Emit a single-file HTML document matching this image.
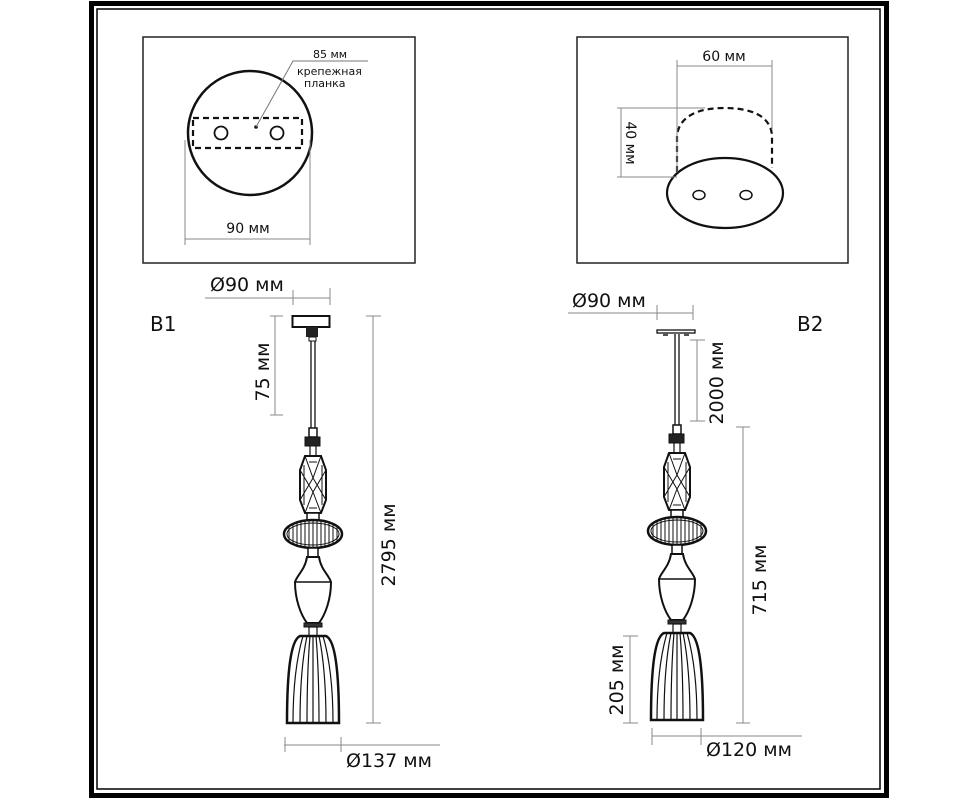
<!DOCTYPE html>
<html><head><meta charset="utf-8"><style>
html,body{margin:0;padding:0;background:#fff;}
svg{display:block;}
text{font-family:"DejaVu Sans","Liberation Sans",sans-serif;fill:#111;}
</style></head><body>
<svg width="978" height="800" viewBox="0 0 978 800" xmlns="http://www.w3.org/2000/svg">
<defs>
<clipPath id="diskc"><ellipse cx="0" cy="534" rx="29" ry="14"/></clipPath>
<clipPath id="shadec"><path d="M -13 636 C -22 640, -26 670, -26 723 L 26 723 C 26 670, 22 640, 13 636 Z"/></clipPath>
<g id="body" stroke="#111" fill="none">
  <rect x="-4" y="428" width="8" height="9" stroke-width="1.5" fill="#fff"/>
  <rect x="-8" y="437" width="15" height="9" fill="#222" stroke-width="1"/>
  <line x1="-3" y1="446" x2="-3" y2="456" stroke-width="1.2"/>
  <line x1="3" y1="446" x2="3" y2="456" stroke-width="1.2"/>
  <polygon points="-8,456 8,456 13,470 13,500 8,513 -8,513 -13,500 -13,470" stroke-width="2"/>
  <path d="M -8 456 L 0 478 L 8 456 M -13 470 L 0 492 L 13 470 M -13 500 L 0 478 L 13 500 M -8 513 L 0 492 L 8 513 M -9 465 L -9 505 M 9 465 L 9 505 M -4 462 L 4 462 M -4 508 L 4 508" stroke-width="1"/>
  <rect x="-6" y="513" width="12" height="7" stroke-width="1.5" fill="#fff"/>
  <ellipse cx="0" cy="534" rx="29" ry="14" stroke-width="2.5" fill="#fff"/>
  <g clip-path="url(#diskc)" stroke-width="1">
    <path d="M -24 520 V 548 M -20 520 V 548 M -16 520 V 548 M -12 520 V 548 M -8 520 V 548 M -4 520 V 548 M 0 520 V 548 M 4 520 V 548 M 8 520 V 548 M 12 520 V 548 M 16 520 V 548 M 20 520 V 548 M 24 520 V 548"/>
    <ellipse cx="0" cy="534" rx="26" ry="11"/>
  </g>
  <rect x="-5" y="548" width="10" height="9" stroke-width="1.5" fill="#fff"/>
  <path d="M -6 557 L 6 557 C 8 570, 16 575, 18 582 C 18 600, 12 615, 6 623 L -6 623 C -12 615, -18 600, -18 582 C -16 575, -8 570, -6 557 Z" stroke-width="2" fill="#fff"/>
  <line x1="-18" y1="582" x2="18" y2="582" stroke-width="1.5"/>
  <rect x="-9" y="623" width="18" height="4" fill="#333" stroke-width="1"/>
  <rect x="-4" y="627" width="8" height="9" stroke-width="1.2" fill="#fff"/>
  <path d="M -13 636 C -22 640, -26 670, -26 723 L 26 723 C 26 670, 22 640, 13 636 Z" stroke-width="2.5" fill="#fff"/>
  <g clip-path="url(#shadec)" stroke-width="1.2">
    <path d="M -10 636 C -17 660, -20 690, -20 723 M -6 636 C -11 660, -13 690, -13 723 M -3 636 C -5 660, -6 690, -6 723 M 0 636 V 723 M 3 636 C 5 660, 6 690, 6 723 M 6 636 C 11 660, 13 690, 13 723 M 10 636 C 17 660, 20 690, 20 723"/>
  </g>
</g>
</defs>

<!-- frame -->
<rect x="91.5" y="3.5" width="795" height="792" fill="none" stroke="#000" stroke-width="5"/>
<rect x="97" y="9" width="783" height="780" fill="none" stroke="#000" stroke-width="1.5"/>

<!-- left box -->
<rect x="143" y="37" width="272" height="226" fill="none" stroke="#222" stroke-width="1.5"/>
<circle cx="250" cy="133" r="62" fill="none" stroke="#111" stroke-width="2.5"/>
<rect x="193" y="118" width="109" height="30" fill="none" stroke="#111" stroke-width="2.2" stroke-dasharray="6,4"/>
<circle cx="221" cy="133" r="6.5" fill="none" stroke="#111" stroke-width="1.8"/>
<circle cx="277" cy="133" r="6.5" fill="none" stroke="#111" stroke-width="1.8"/>
<circle cx="256" cy="127" r="1.8" fill="#111"/>
<polyline points="256,127 293,61 368,61" fill="none" stroke="#777" stroke-width="1"/>
<text x="313" y="58" font-size="11">85 мм</text>
<text x="297" y="75" font-size="11">крепежная</text>
<text x="304" y="87" font-size="11">планка</text>
<line x1="185" y1="140" x2="185" y2="245" stroke="#888" stroke-width="1"/>
<line x1="310" y1="140" x2="310" y2="245" stroke="#888" stroke-width="1"/>
<line x1="185" y1="239" x2="310" y2="239" stroke="#888" stroke-width="1"/>
<text x="248" y="233" font-size="14" text-anchor="middle">90 мм</text>

<!-- right box -->
<rect x="577" y="37" width="271" height="226" fill="none" stroke="#222" stroke-width="1.5"/>
<path d="M 677 172 L 677 135 C 680 115, 700 108, 724 108 C 750 108, 770 115, 772 135 L 772 168" fill="none" stroke="#111" stroke-width="2.2" stroke-dasharray="6,4"/>
<ellipse cx="725" cy="193" rx="58" ry="35" fill="#fff" stroke="#111" stroke-width="2.2"/>
<ellipse cx="699" cy="195" rx="6" ry="4.5" fill="none" stroke="#111" stroke-width="1.5"/>
<ellipse cx="746" cy="195" rx="6" ry="4.5" fill="none" stroke="#111" stroke-width="1.5"/>
<line x1="677" y1="60" x2="677" y2="172" stroke="#888" stroke-width="1"/>
<line x1="772" y1="60" x2="772" y2="130" stroke="#888" stroke-width="1"/>
<line x1="677" y1="66" x2="772" y2="66" stroke="#888" stroke-width="1"/>
<text x="724" y="61" font-size="14" text-anchor="middle">60 мм</text>
<line x1="617" y1="108" x2="705" y2="108" stroke="#888" stroke-width="1"/>
<line x1="617" y1="177" x2="677" y2="177" stroke="#888" stroke-width="1"/>
<line x1="621" y1="108" x2="621" y2="177" stroke="#888" stroke-width="1"/>
<text transform="translate(626,143) rotate(90)" font-size="14" text-anchor="middle">40 мм</text>

<!-- B1 -->
<text x="150" y="331" font-size="20">B1</text>
<text x="210" y="291" font-size="19">Ø90 мм</text>
<line x1="205" y1="298" x2="330" y2="298" stroke="#888" stroke-width="1"/>
<line x1="293" y1="290" x2="293" y2="305" stroke="#888" stroke-width="1"/>
<line x1="330" y1="288" x2="330" y2="305" stroke="#888" stroke-width="1"/>
<rect x="292.5" y="316" width="37" height="11" fill="#fff" stroke="#111" stroke-width="2"/>
<rect x="306" y="327" width="12" height="10" fill="#222"/>
<rect x="309" y="337" width="7" height="4" fill="#fff" stroke="#111" stroke-width="1"/>
<line x1="311" y1="341" x2="311" y2="428" stroke="#111" stroke-width="1.3"/>
<line x1="315" y1="341" x2="315" y2="428" stroke="#111" stroke-width="1.3"/>
<use href="#body" transform="translate(313,0)"/>
<line x1="275" y1="316" x2="275" y2="415" stroke="#888" stroke-width="1"/>
<line x1="270" y1="316" x2="283" y2="316" stroke="#888" stroke-width="1"/>
<line x1="270" y1="415" x2="283" y2="415" stroke="#888" stroke-width="1"/>
<text transform="translate(269,372) rotate(-90)" font-size="19" text-anchor="middle">75 мм</text>
<line x1="373" y1="316" x2="373" y2="723" stroke="#888" stroke-width="1"/>
<line x1="366" y1="316" x2="381" y2="316" stroke="#888" stroke-width="1"/>
<line x1="366" y1="723" x2="381" y2="723" stroke="#888" stroke-width="1"/>
<text transform="translate(395,545) rotate(-90)" font-size="19" text-anchor="middle">2795 мм</text>
<line x1="284" y1="745" x2="440" y2="745" stroke="#888" stroke-width="1"/>
<line x1="285" y1="737" x2="285" y2="752" stroke="#888" stroke-width="1"/>
<line x1="341" y1="737" x2="341" y2="752" stroke="#888" stroke-width="1"/>
<text x="346" y="767" font-size="19">Ø137 мм</text>

<!-- B2 -->
<text x="797" y="331" font-size="20">B2</text>
<text x="572" y="307" font-size="19">Ø90 мм</text>
<line x1="568" y1="313" x2="693" y2="313" stroke="#888" stroke-width="1"/>
<line x1="657" y1="305" x2="657" y2="320" stroke="#888" stroke-width="1"/>
<line x1="693" y1="305" x2="693" y2="320" stroke="#888" stroke-width="1"/>
<rect x="657" y="330" width="38" height="3" fill="#fff" stroke="#111" stroke-width="1.3"/>
<rect x="663" y="333" width="5" height="3" fill="#555"/>
<rect x="684" y="333" width="5" height="3" fill="#555"/>
<line x1="675" y1="334" x2="675" y2="426" stroke="#111" stroke-width="1.3"/>
<line x1="679" y1="334" x2="679" y2="426" stroke="#111" stroke-width="1.3"/>
<use href="#body" transform="translate(677,-3)"/>
<line x1="697" y1="340" x2="697" y2="421" stroke="#888" stroke-width="1"/>
<line x1="690" y1="340" x2="705" y2="340" stroke="#888" stroke-width="1"/>
<line x1="690" y1="421" x2="705" y2="421" stroke="#888" stroke-width="1"/>
<text transform="translate(723,383) rotate(-90)" font-size="19" text-anchor="middle">2000 мм</text>
<line x1="743" y1="427" x2="743" y2="723" stroke="#888" stroke-width="1"/>
<line x1="736" y1="427" x2="750" y2="427" stroke="#888" stroke-width="1"/>
<line x1="736" y1="723" x2="750" y2="723" stroke="#888" stroke-width="1"/>
<text transform="translate(766,580) rotate(-90)" font-size="19" text-anchor="middle">715 мм</text>
<line x1="630" y1="636" x2="630" y2="723" stroke="#888" stroke-width="1"/>
<line x1="623" y1="636" x2="638" y2="636" stroke="#888" stroke-width="1"/>
<line x1="623" y1="723" x2="638" y2="723" stroke="#888" stroke-width="1"/>
<text transform="translate(623,680) rotate(-90)" font-size="19" text-anchor="middle">205 мм</text>
<line x1="652" y1="736" x2="802" y2="736" stroke="#888" stroke-width="1"/>
<line x1="652" y1="728" x2="652" y2="745" stroke="#888" stroke-width="1"/>
<line x1="701" y1="728" x2="701" y2="745" stroke="#888" stroke-width="1"/>
<text x="706" y="756" font-size="19">Ø120 мм</text>
</svg>
</body></html>
